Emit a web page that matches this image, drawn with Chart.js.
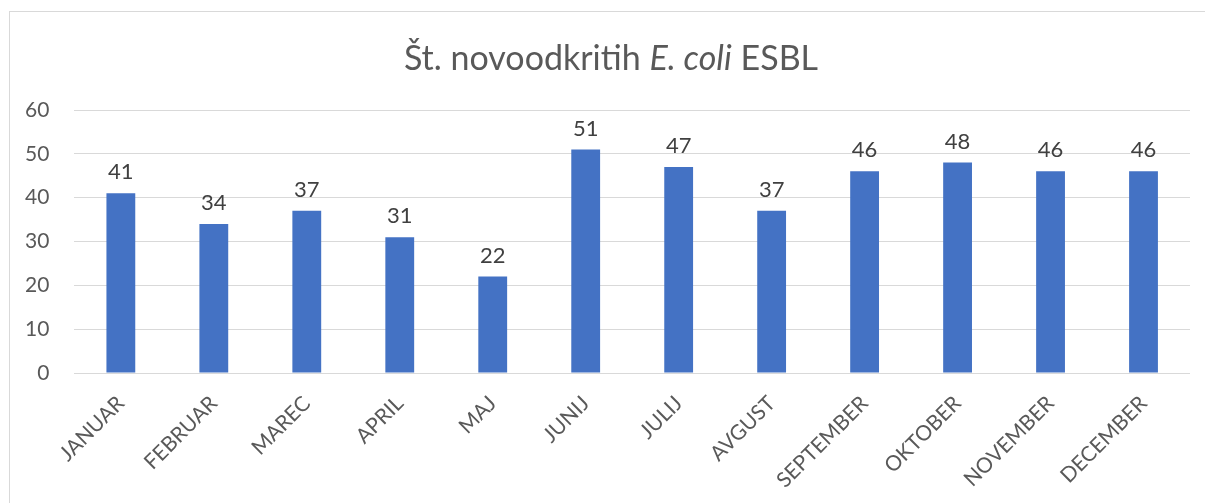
<!DOCTYPE html>
<html>
<head>
<meta charset="utf-8">
<script src="https://cdn.jsdelivr.net/npm/chart.js@4/dist/chart.umd.min.js"></script>
<style>
  html, body { margin: 0; padding: 0; background: #fff; }
  #wrap { width: 1205px; height: 503px; position: relative; }
</style>
</head>
<body>
<div id="wrap"><canvas id="myBarChart"></canvas></div>
<script>
// ---- data ----
var months = ['JANUAR', 'FEBRUAR', 'MAREC', 'APRIL', 'MAJ', 'JUNIJ', 'JULIJ', 'AVGUST', 'SEPTEMBER', 'OKTOBER', 'NOVEMBER', 'DECEMBER'];
var novoodkriti = [41, 34, 37, 31, 22, 51, 47, 37, 46, 48, 46, 46];
var yTicks = [0, 10, 20, 30, 40, 50, 60];
var titleParts = [
    { text: 'Št. novoodkritih ', italic: false },
    { text: 'E. coli', italic: true },
    { text: ' ESBL', italic: false }
];

// frame round the chart, like the excel chart box
var framePlugin = {
    id: 'frame',
    beforeDraw: function(chart) {
        var ctx = chart.ctx;
        ctx.save();
        ctx.strokeStyle = '#d9d9d9';
        ctx.lineWidth = 1;
        ctx.strokeRect(9.5, 11.5, 1400, 600);
        ctx.restore();
    }
};

// title with an italic part (chart.js title can't mix styles)
var mixedTitle = {
    id: 'mixedTitle',
    afterDraw: function(chart) {
        var ctx = chart.ctx;
        var size = 34;
        ctx.save();
        ctx.fillStyle = '#595959';
        ctx.textBaseline = 'middle';
        var total = 0;
        titleParts.forEach(p => {
            ctx.font = (p.italic ? 'italic ' : '') + size + 'px Lato';
            total += ctx.measureText(p.text).width;
        });
        var x = 611 - total / 2;
        titleParts.forEach(p => {
            ctx.font = (p.italic ? 'italic ' : '') + size + 'px Lato';
            ctx.fillText(p.text, x, 59);
            x += ctx.measureText(p.text).width;
        });
        ctx.restore();
    }
};

// value labels above bars
var valueLabels = {
    id: 'valueLabels',
    afterDatasetsDraw: function(chart) {
        var ctx = chart.ctx;
        var meta = chart.getDatasetMeta(0);
        ctx.save();
        ctx.font = '22px Lato';
        ctx.fillStyle = '#404040';
        ctx.textAlign = 'center';
        ctx.textBaseline = 'bottom';
        meta.data.forEach((bar, i) => {
            ctx.fillText(chart.data.datasets[0].data[i], bar.x, bar.y - 10);
        });
        ctx.restore();
    }
};

var ctx = document.getElementById('myBarChart').getContext('2d');
var chart = new Chart(ctx, {
    type: 'bar',
    data: {
        labels: months,
        datasets: [{
            data: novoodkriti,
            backgroundColor: '#4472c4',
            categoryPercentage: 1.0,
            barPercentage: 0.31
        }]
    },
    options: {
        responsive: true,
        maintainAspectRatio: false,
        animation: false,
        layout: { padding: { top: 110, right: 15, left: 0, bottom: 0 } },
        plugins: {
            legend: { display: false },
            title: { display: false },
            tooltip: { enabled: false }
        },
        scales: {
            x: {
                grid: { display: false },
                border: { display: false },
                ticks: {
                    color: '#595959',
                    font: { family: 'Lato', size: 21 },
                    maxRotation: 45,
                    minRotation: 45,
                    autoSkip: false,
                    padding: 10
                }
            },
            y: {
                min: yTicks[0],
                max: yTicks[yTicks.length - 1],
                afterBuildTicks: function(axis) {
                    axis.ticks = yTicks.map(v => ({ value: v }));
                },
                grid: { color: '#d9d9d9', lineWidth: 1, drawTicks: false },
                border: { display: false },
                ticks: {
                    color: '#595959',
                    font: { family: 'Lato', size: 21 },
                    padding: 25
                }
            }
        }
    },
    plugins: [framePlugin, mixedTitle, valueLabels]
});
</script>
</body>
</html>
